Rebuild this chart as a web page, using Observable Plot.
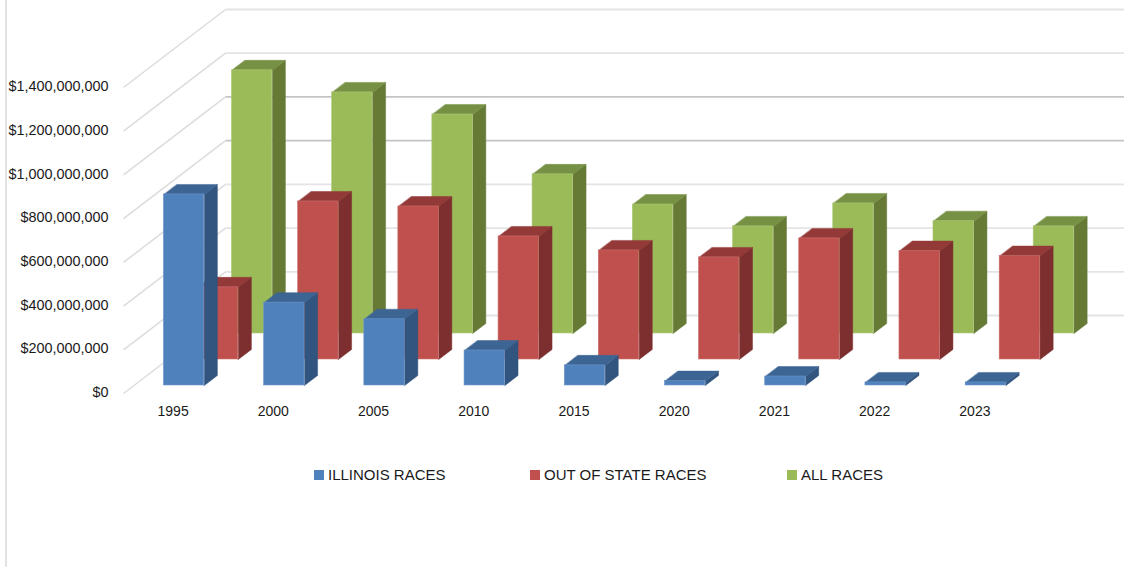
<!DOCTYPE html>
<html>
<head>
<meta charset="utf-8">
<script src="https://cdn.jsdelivr.net/npm/d3@7"></script>
<script src="https://cdn.jsdelivr.net/npm/@observablehq/plot@0.6"></script>
<style>
  html, body { margin: 0; padding: 0; background: #fff; overflow: hidden; }
  #wrap { position: relative; width: 1124px; height: 567px; font-family: "Liberation Sans", Arial, sans-serif; color: #1a1a1a; }
  #chart { position: absolute; left: 0; top: 0; }
  #chart svg { display: block; overflow: hidden; }
  #edge { position: absolute; left: 5px; top: 0; width: 1.5px; height: 567px; background: #e2e2e2; }
  #legend { position: absolute; top: 465px; left: 0; width: 1124px; height: 20px; font-size: 15px; line-height: 20px; }
  .item { position: absolute; top: 0; white-space: nowrap; padding-left: 14px; }
  .item i { position: absolute; left: 0; top: 5px; width: 10px; height: 10px; }
</style>
</head>
<body>
<div id="wrap">
  <div id="chart"></div>
  <div id="edge"></div>
  <div id="legend"></div>
</div>
<script>
const years = ["1995", "2000", "2005", "2010", "2015", "2020", "2021", "2022", "2023"];
const illinois = [874e6, 379e6, 303e6, 160e6, 92e6, 20e6, 41e6, 14e6, 14e6];
const outOfState = [330e6, 723e6, 700e6, 563e6, 499e6, 467e6, 554e6, 496e6, 473e6];
const allRaces = [1204e6, 1103e6, 1002e6, 728e6, 590e6, 490e6, 595e6, 514e6, 490e6];
const yTicks = [0, 200e6, 400e6, 600e6, 800e6, 1000e6, 1200e6, 1400e6];
const seriesNames = ["ILLINOIS RACES", "OUT OF STATE RACES", "ALL RACES"];
const legendLeft = [314, 530, 787];

// Oblique 3D projection in data units: one depth step moves right and "up" the value axis.
const xPerDepth = 0.3393, valuePerDepth = 118.95e6;
const backDepth = 3, barWidth = 0.403, barDepth = 0.385, firstDepth = 0.308;
const px = (c, z) => c + z * xPerDepth;
const py = (v, z) => v + z * valuePerDepth;

const palette = [
  {front: "#4f81bd", side: "#32557f", top: "#3c6594", edge: "#6f97c9"},
  {front: "#c0504d", side: "#7c2f2e", top: "#933938", edge: "#cb7472"},
  {front: "#9bbb59", side: "#667a36", top: "#769044", edge: "#afc97c"}
];
const seriesValues = [illinois, outOfState, allRaces];

function polygons(values, s, face) {
  const out = [];
  const z0 = s + firstDepth, z1 = z0 + barDepth;
  values.forEach((v, i) => {
    const a = i + 0.5 - barWidth / 2, b = a + barWidth;
    const pts = face === "side"
      ? [[b, 0, z0], [b, 0, z1], [b, v, z1], [b, v, z0]]
      : [[a, v, z0], [b, v, z0], [b, v, z1], [a, v, z1]];
    pts.forEach(([c, val, z]) => out.push({id: i, x: px(c, z), y: py(val, z)}));
  });
  return out;
}

function seriesMarks(s) {
  const values = seriesValues[s], col = palette[s], z0 = s + firstDepth;
  const fronts = values.map((v, i) => ({
    x1: px(i + 0.5 - barWidth / 2, z0), x2: px(i + 0.5 + barWidth / 2, z0),
    y1: py(0, z0), y2: py(v, z0)
  }));
  return [
    Plot.line(polygons(values, s, "side"), {x: "x", y: "y", z: "id", curve: "linear-closed", fill: col.side, stroke: col.side, strokeWidth: 0.5}),
    Plot.line(polygons(values, s, "top"), {x: "x", y: "y", z: "id", curve: "linear-closed", fill: col.top, stroke: col.top, strokeWidth: 0.5}),
    Plot.rect(fronts, {x1: "x1", x2: "x2", y1: "y1", y2: "y2", fill: col.front, stroke: col.edge, strokeWidth: 0.6})
  ];
}

const gridColor = v => (v === 800e6 || v === 1000e6) ? "#c4c4c4" : "#e4e4e4";

const plot = Plot.plot({
  width: 1124,
  height: 450,
  marginLeft: 123,
  marginRight: 99,
  marginTop: 87,
  marginBottom: 57,
  style: {background: "#fff", fontFamily: '"Liberation Sans", Arial, sans-serif', overflow: "hidden"},
  x: {domain: [0, years.length], axis: null},
  y: {domain: [0, 1400e6], axis: null},
  marks: [
    // back wall
    Plot.link(yTicks, {
      x1: () => px(0, backDepth), x2: () => px(years.length, backDepth),
      y1: v => py(v, backDepth), y2: v => py(v, backDepth),
      stroke: gridColor, strokeWidth: 1.8
    }),
    // left wall
    Plot.link(yTicks, {
      x1: () => px(0, 0), x2: () => px(0, backDepth),
      y1: v => v, y2: v => py(v, backDepth),
      stroke: "#dcdcdc", strokeWidth: 1.5
    }),
    ...seriesMarks(2),
    ...seriesMarks(1),
    ...seriesMarks(0),
    Plot.axisY({
      ticks: yTicks, tickSize: 0, tickPadding: 15, label: null, dy: -1,
      tickFormat: d3.format("$,.0f"), fontSize: 14.4, color: "#1a1a1a"
    }),
    Plot.axisX({
      ticks: years.map((d, i) => i + 0.5), tickSize: 0, tickPadding: 13, label: null, dx: -0.5,
      tickFormat: t => years[t - 0.5], fontSize: 14, color: "#1a1a1a"
    })
  ]
});
document.getElementById("chart").appendChild(plot);

const legend = document.getElementById("legend");
seriesNames.forEach((name, i) => {
  const el = document.createElement("div");
  el.className = "item";
  el.style.left = legendLeft[i] + "px";
  el.innerHTML = '<i style="background:' + palette[i].front + '"></i>' + name;
  legend.appendChild(el);
});
</script>
</body>
</html>
